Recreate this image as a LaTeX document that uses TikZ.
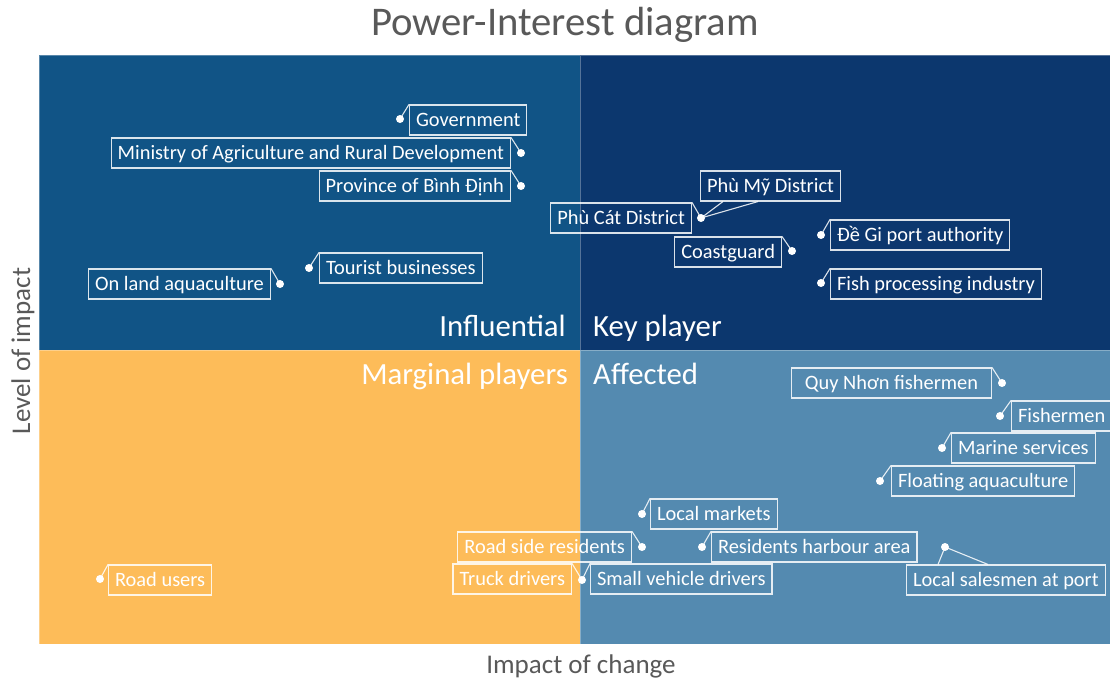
\documentclass[tikz,border=0pt]{standalone}
\usepackage{fontspec}
\setmainfont{Carlito}
\definecolor{qInfl}{RGB}{17,84,134}
\definecolor{qKey}{RGB}{12,55,110}
\definecolor{qMarg}{RGB}{253,188,89}
\definecolor{qAff}{RGB}{84,138,176}
\definecolor{titlegray}{RGB}{89,89,89}
\begin{document}
\begin{tikzpicture}[x=1pt,y=-1pt,
  quadrant/.style={draw=white, draw opacity=0.3, line width=0.8pt},
  callout/.style={draw=white, draw opacity=0.85, line width=1.1pt, text=white,
    font=\fontsize{20.4}{24}\selectfont, inner xsep=6.5pt, inner ysep=0pt,
    minimum height=30pt, text height=15pt, text depth=2pt},
  pin/.style={circle, fill=white, inner sep=0pt, minimum size=8pt},
  leader/.style={draw=white, draw opacity=0.85, line width=1.1pt},
  quadlabel/.style={font=\fontsize{30.8}{36}\selectfont, text=white, inner sep=0pt},
  axislabel/.style={font=\fontsize{27}{32}\selectfont, text=titlegray, inner sep=0pt}]

\useasboundingbox (0,0) rectangle (1110,680);
\fill[white] (0,0) rectangle (1110,680);

% quadrants
\fill[qInfl, quadrant] (39,55) rectangle (580,350);
\fill[qKey, quadrant] (580,55) rectangle (1110,350);
\fill[qMarg, quadrant] (39,350) rectangle (580,644);
\fill[qAff, quadrant] (580,350) rectangle (1110,644);

% title and axes
\node[font=\fontsize{40.7}{48}\selectfont, text=titlegray, inner sep=0pt, anchor=base] (title) at (565,35) {Power-Interest diagram};
\node[axislabel, anchor=base] (xaxis) at (581,673) {Impact of change};
\node[axislabel, anchor=base, rotate=90] (yaxis) at (30,351) {Level of impact};

% quadrant names
\node[quadlabel, anchor=base east] (infl) at (566,336) {Influential};
\node[quadlabel, anchor=base west] (key) at (593,336) {Key player};
\node[quadlabel, anchor=base east] (marg) at (568,384) {Marginal players};
\node[quadlabel, anchor=base west] (aff) at (593,384) {Affected};

% stakeholders: boxes
\node[callout, anchor=west] (gov) at (409,120) {Government};
\node[callout, anchor=east] (mard) at (511,153) {Ministry of Agriculture and Rural Development};
\node[callout, anchor=east] (prov) at (511,186) {Province of Bình Định};
\node[callout, anchor=west] (tour) at (319,268) {Tourist businesses};
\node[callout, anchor=east] (onland) at (271,284) {On land aquaculture};
\node[callout, anchor=west] (phumy) at (700,186) {Phù Mỹ District};
\node[callout, anchor=east] (phucat) at (692,218) {Phù Cát District};
\node[callout, anchor=east] (coast) at (782,252) {Coastguard};
\node[callout, anchor=west] (degi) at (830,235) {Đề Gi port authority};
\node[callout, anchor=west] (fish) at (830,284) {Fish processing industry};
\node[callout, anchor=east, minimum width=200pt] (quynhon) at (992,383) {Quy Nhơn fishermen};
\node[callout, anchor=west] (fishermen) at (1011,416) {Fishermen};
\node[callout, anchor=west] (marine) at (951,448) {Marine services};
\node[callout, anchor=west] (floating) at (891,481) {Floating aquaculture};
\node[callout, anchor=west] (markets) at (650,514) {Local markets};
\node[callout, anchor=east] (roadside) at (632,547) {Road side residents};
\node[callout, anchor=west] (harbour) at (711,547) {Residents harbour area};
\node[callout, anchor=east] (truck) at (572,579) {Truck drivers};
\node[callout, anchor=west] (smallveh) at (590,579) {Small vehicle drivers};
\node[callout, anchor=west] (sales) at (906,580) {Local salesmen at port};
\node[callout, anchor=west] (roadusers) at (108,580) {Road users};

% stakeholders: pins
\node[pin] (govP) at (400,119) {};
\node[pin] (mardP) at (521,153) {};
\node[pin] (provP) at (521,186) {};
\node[pin] (tourP) at (309,268) {};
\node[pin] (onlandP) at (280,284) {};
\node[pin] (districtP) at (701,218) {};
\node[pin] (coastP) at (792,251) {};
\node[pin] (degiP) at (821,235) {};
\node[pin] (fishP) at (821,283) {};
\node[pin] (quynhonP) at (1002,383) {};
\node[pin] (fishermenP) at (1000,416) {};
\node[pin] (marineP) at (942,448) {};
\node[pin] (floatingP) at (880,481) {};
\node[pin] (marketsP) at (642,514) {};
\node[pin] (roadsideP) at (642,547) {};
\node[pin] (harbourP) at (702,547) {};
\node[pin] (driversP) at (582,580) {};
\node[pin] (salesP) at (945,547) {};
\node[pin] (roadusersP) at (100,579) {};

% leaders
\draw[leader] (gov.north west) -- (govP.center);
\draw[leader] (mard.north east) -- (mardP.center);
\draw[leader] (prov.north east) -- (provP.center);
\draw[leader] (tour.north west) -- (tourP.center);
\draw[leader] (onland.north east) -- (onlandP.center);
\draw[leader] ([xshift=23pt]phumy.south west) -- (districtP.center) -- ([xshift=58pt]phumy.south west);
\draw[leader] (phucat.north east) -- (districtP.center);
\draw[leader] (coast.north east) -- (coastP.center);
\draw[leader] (degi.north west) -- (degiP.center);
\draw[leader] (fish.north west) -- (fishP.center);
\draw[leader] (quynhon.north east) -- (quynhonP.center);
\draw[leader] (fishermen.north west) -- (fishermenP.center);
\draw[leader] (marine.north west) -- (marineP.center);
\draw[leader] (floating.north west) -- (floatingP.center);
\draw[leader] (markets.north west) -- (marketsP.center);
\draw[leader] (roadside.north east) -- (roadsideP.center);
\draw[leader] (harbour.north west) -- (harbourP.center);
\draw[leader] (truck.north east) -- (driversP.center);
\draw[leader] (smallveh.north west) -- (driversP.center);
\draw[leader] ([xshift=32pt]sales.north west) -- (salesP.center) -- ([xshift=82pt]sales.north west);
\draw[leader] (roadusers.north west) -- (roadusersP.center);
\end{tikzpicture}
\end{document}
